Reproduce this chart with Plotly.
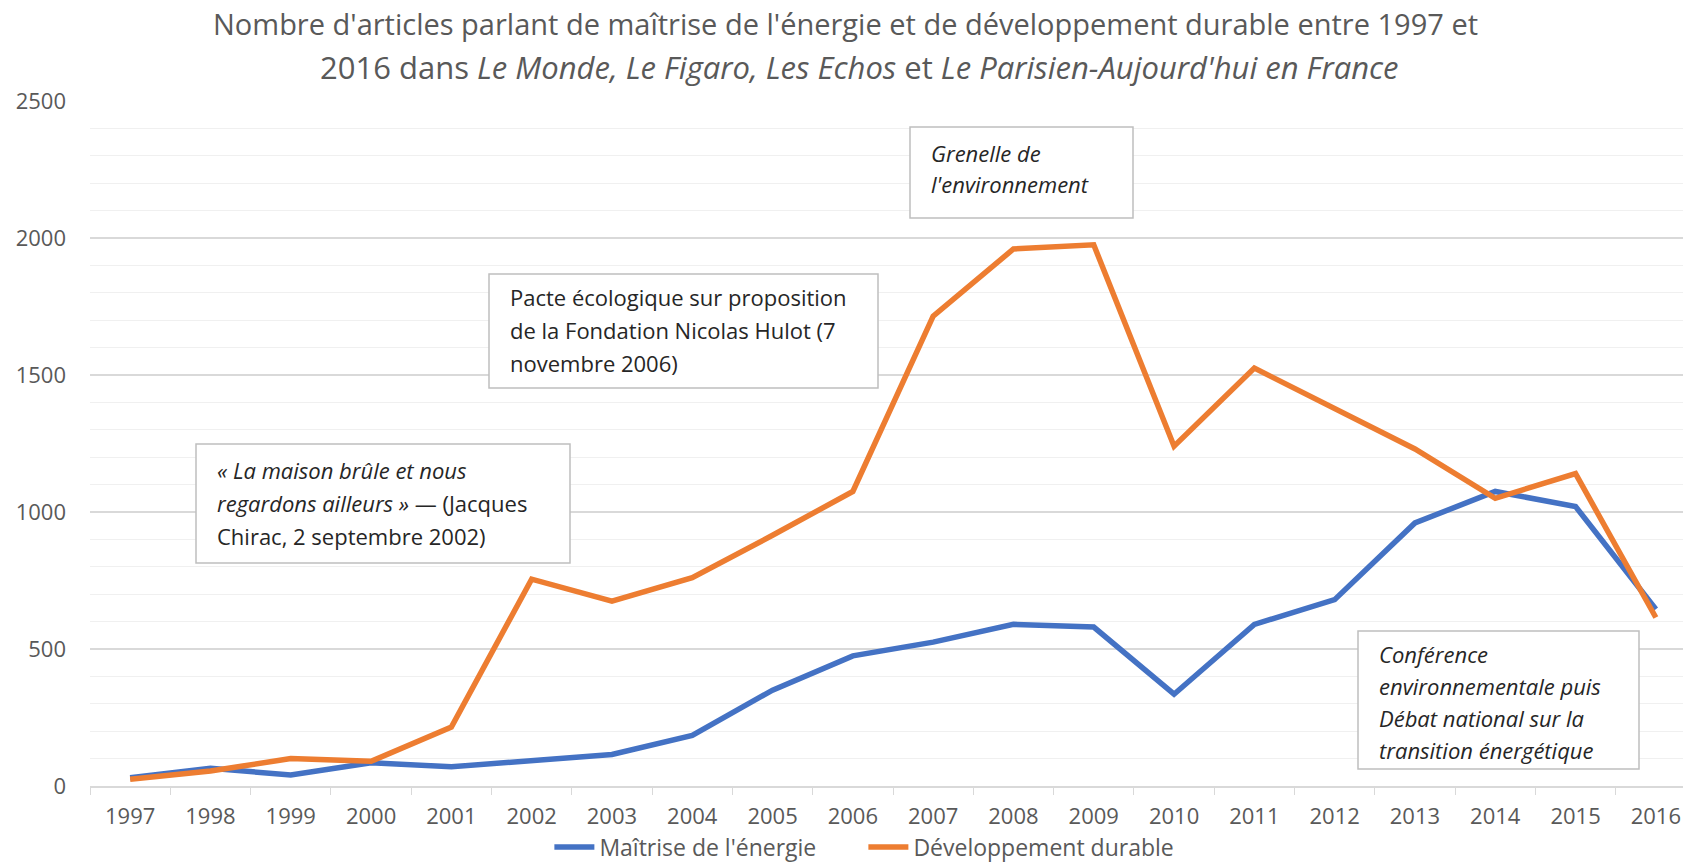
import plotly.graph_objects as go

years = [str(y) for y in range(1997, 2017)]
maitrise = [30, 65, 40, 85, 70, 90, 115, 185, 350, 475, 525, 590, 580, 335, 590, 680, 960, 1075, 1020, 645]
developpement = [25, 55, 100, 90, 215, 755, 675, 760, 915, 1075, 1715, 1960, 1975, 1240, 1525, 1375, 1230, 1050, 1140, 615]
series_names = ["Maîtrise de l'énergie", "Développement durable"]
y_ticks = [0, 500, 1000, 1500, 2000, 2500]

title_line1 = "Nombre d'articles parlant de maîtrise de l'énergie et de développement durable entre 1997 et"
title_line2 = "2016 dans <i>Le Monde, Le Figaro, Les Echos</i> et <i>Le Parisien-Aujourd'hui en France</i>"

notes = [
    ["<i>« La maison brûle et nous</i>", "<i>regardons ailleurs »</i> — (Jacques", "Chirac, 2 septembre 2002)"],
    ["Pacte écologique sur proposition", "de la Fondation Nicolas Hulot (7", "novembre 2006)"],
    ["<i>Grenelle de</i>", "<i>l'environnement</i>"],
    ["<i>Conférence</i>", "<i>environnementale puis</i>", "<i>Débat national sur la</i>", "<i>transition énergétique</i>"],
]

W, H = 1683, 865
L, R, T, B = 90, 0, 101, 79
PW, PH = W - L - R, H - T - B
CAT_W = 80.3

def px(x):
    return (x - L) / PW

def py(y):
    return (H - B - y) / PH

FONT = "Open Sans"
GREY = "#595959"

fig = go.Figure()
fig.add_trace(go.Scatter(x=years, y=maitrise, name=series_names[0], mode="lines",
                         line=dict(color="#4472C4", width=5.5)))
fig.add_trace(go.Scatter(x=years, y=developpement, name=series_names[1], mode="lines",
                         line=dict(color="#ED7D31", width=5.5)))

# annotation boxes: (left, top, right, bottom) in pixels, with text centre shift and line gap
boxes = [(196, 444, 570, 563), (489, 274, 878, 388), (910, 127, 1133, 218), (1358, 631, 1639, 769)]
box_shift = [-1, -1, -4, 2]
box_gap = [33, 33, 30, 32]
shapes = []
annotations = []
for (l, t, r, b), lines, sh, gap in zip(boxes, notes, box_shift, box_gap):
    shapes.append(dict(type="rect", xref="paper", yref="paper", x0=px(l), x1=px(r), y0=py(b), y1=py(t),
                       line=dict(color="#BFBFBF", width=1.5), fillcolor="white", layer="above"))
    n = len(lines)
    cy = (t + b) / 2 + sh
    for i, txt in enumerate(lines):
        yy = cy + (i - (n - 1) / 2) * gap
        annotations.append(dict(xref="paper", yref="paper", x=px(l + 19), y=py(yy),
                                xanchor="left", yanchor="middle", align="left", showarrow=False,
                                text=txt, font=dict(family=FONT, size=22, color="#262626")))

annotations.append(dict(xref="paper", yref="paper", x=px(845), y=py(24), xanchor="center", yanchor="middle",
                        showarrow=False, text=title_line1, font=dict(family=FONT, size=29, color=GREY)))
annotations.append(dict(xref="paper", yref="paper", x=px(859), y=py(67), xanchor="center", yanchor="middle",
                        showarrow=False, text=title_line2, font=dict(family=FONT, size=31, color=GREY)))

fig.update_layout(
    width=W, height=H,
    margin=dict(l=L, r=R, t=T, b=B, autoexpand=False),
    plot_bgcolor="white", paper_bgcolor="white",
    font=dict(family=FONT, size=22, color=GREY),
    shapes=shapes, annotations=annotations,
    showlegend=True,
    legend=dict(orientation="h", xref="container", yref="container", x=0.513, y=1 - 847 / H,
                xanchor="center", yanchor="middle", font=dict(family=FONT, size=23, color=GREY),
                itemwidth=40, tracegroupgap=0, entrywidth=259, entrywidthmode="pixels",
                borderwidth=0, bgcolor="rgba(0,0,0,0)"),
)
fig.update_xaxes(type="category", range=[-0.5, 19.5 - (1696 - W) / CAT_W], showgrid=False,
                 showline=True, linecolor="#D9D9D9", linewidth=1.5,
                 ticks="outside", tickson="boundaries", ticklen=7, tickcolor="#D9D9D9",
                 ticklabelstandoff=10,
                 tickfont=dict(family=FONT, size=22, color=GREY), zeroline=False)
fig.update_yaxes(range=[0, 2500], tickvals=y_ticks, showgrid=True, gridcolor="#D9D9D9", gridwidth=1.5,
                 minor=dict(dtick=100, showgrid=True, gridcolor="#F0F0F0", gridwidth=1.2),
                 zeroline=False, showline=False, ticklabelstandoff=23,
                 tickfont=dict(family=FONT, size=22, color=GREY))

fig.write_html("out.html", config={"displayModeBar": False},
               post_script="document.body.style.margin='0';")
